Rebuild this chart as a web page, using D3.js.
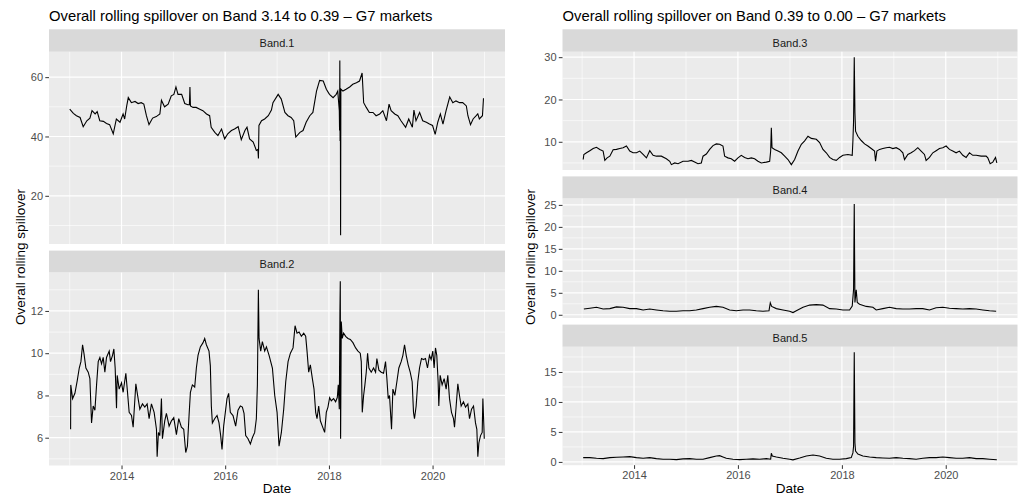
<!DOCTYPE html>
<html><head><meta charset="utf-8">
<script src="https://cdn.jsdelivr.net/npm/d3@7"></script>
<style>
body{margin:0;background:#fff}
svg{display:block}
text{font-family:"Liberation Sans",Arial,Helvetica,sans-serif}
</style>
</head><body>
<svg id="chart" width="1021" height="497"></svg>
<script>
// ---------------- DATA (time in decimal years) ----------------
const titles = ["Overall rolling spillover on Band 3.14 to 0.39 \u2013 G7 markets",
                "Overall rolling spillover on Band 0.39 to 0.00 \u2013 G7 markets"];
const bandNames = ["Band.1","Band.2","Band.3","Band.4","Band.5"];
const xTickYears = [2014, 2016, 2018, 2020];
const xLabel = "Date";
const yLabel = "Overall rolling spillover";

const b1Time = [2013.00,2013.07,2013.13,2013.20,2013.26,2013.33,2013.39,2013.43,2013.49,2013.53,2013.58,2013.65,2013.71,2013.77,2013.84,2013.90,2013.97,2014.03,2014.06,2014.10,2014.13,2014.19,2014.26,2014.32,2014.38,2014.43,2014.48,2014.53,2014.60,2014.67,2014.74,2014.77,2014.83,2014.90,2014.96,2015.01,2015.05,2015.09,2015.16,2015.22,2015.28,2015.31,2015.32,2015.33,2015.38,2015.44,2015.51,2015.57,2015.64,2015.70,2015.73,2015.80,2015.86,2015.93,2015.99,2016.05,2016.12,2016.18,2016.25,2016.31,2016.38,2016.42,2016.47,2016.54,2016.60,2016.63,2016.64,2016.65,2016.70,2016.76,2016.83,2016.89,2016.92,2017.02,2017.08,2017.15,2017.21,2017.27,2017.32,2017.36,2017.44,2017.50,2017.56,2017.63,2017.69,2017.76,2017.82,2017.89,2017.95,2018.01,2018.08,2018.14,2018.17,2018.200,2018.205,2018.210,2018.215,2018.220,2018.225,2018.230,2018.27,2018.33,2018.40,2018.46,2018.53,2018.59,2018.64,2018.67,2018.72,2018.78,2018.85,2018.91,2018.98,2019.04,2019.11,2019.16,2019.20,2019.27,2019.33,2019.39,2019.48,2019.54,2019.61,2019.64,2019.68,2019.75,2019.81,2019.88,2019.94,2020.00,2020.05,2020.10,2020.15,2020.20,2020.26,2020.33,2020.39,2020.45,2020.52,2020.58,2020.65,2020.68,2020.73,2020.78,2020.84,2020.87,2020.90,2020.96,2020.98];
const b1Value = [49.2,47.8,47,46.4,43.3,45.3,46.2,48.7,47.6,48.4,45.3,45.1,44.4,44,40.9,45.9,44.8,47.6,45.9,50.3,53.1,51.4,51.8,51.1,51.4,50.9,47,44,46.2,46.7,47.6,52.2,50,50.9,53.7,54.2,56.7,54.2,54.2,51.1,50.7,50.7,56.7,50.3,49.8,49.8,49.2,48.7,47.6,47,43.1,41.4,40.3,42.5,39.2,40.9,42,42.5,43.3,38.9,42,43.1,39.2,38.1,35.3,35.6,32.6,43.7,45.3,45.9,47,48.9,51.4,54.2,52.6,48.1,47,46.4,45.3,39.8,41.4,42,44.8,47,48.1,55.3,58.9,58.7,55.9,54.2,53.1,54.2,55.3,48.7,42,65.6,38.5,55,6.7,56,55.3,55.9,56.7,57.6,58.1,58.7,61.4,51.4,49.8,48.1,48.1,47,47.6,48.7,45.3,50.9,48.7,47.6,47,45.3,43.1,45.9,43.1,48.9,45.3,48.1,45.3,44.8,44.2,43.7,40.7,44.8,47.6,44.2,48.7,53.3,51.4,52,51.4,51.4,50.3,47,44,45.9,47,47.6,45.9,47,52.9];

const b2Time = [2013.017,2013.02,2013.055,2013.10,2013.145,2013.184,2013.216,2013.248,2013.274,2013.312,2013.357,2013.389,2013.421,2013.453,2013.486,2013.518,2013.55,2013.582,2013.614,2013.646,2013.678,2013.71,2013.762,2013.787,2013.826,2013.852,2013.877,2013.903,2013.916,2013.954,2013.999,2014.031,2014.083,2014.115,2014.147,2014.192,2014.224,2014.276,2014.32,2014.353,2014.404,2014.449,2014.494,2014.532,2014.577,2014.629,2014.674,2014.687,2014.712,2014.738,2014.77,2014.789,2014.834,2014.866,2014.918,2014.963,2015.008,2015.059,2015.104,2015.155,2015.2,2015.239,2015.271,2015.303,2015.329,2015.367,2015.412,2015.444,2015.476,2015.521,2015.573,2015.605,2015.637,2015.688,2015.714,2015.733,2015.753,2015.797,2015.843,2015.881,2015.913,2015.939,2015.971,2016.003,2016.035,2016.067,2016.099,2016.151,2016.202,2016.247,2016.292,2016.331,2016.363,2016.395,2016.44,2016.485,2016.523,2016.568,2016.6,2016.62,2016.639,2016.652,2016.684,2016.716,2016.761,2016.794,2016.845,2016.909,2016.954,2016.999,2017.037,2017.082,2017.127,2017.166,2017.211,2017.256,2017.307,2017.346,2017.384,2017.423,2017.468,2017.513,2017.551,2017.577,2017.609,2017.641,2017.68,2017.712,2017.744,2017.77,2017.802,2017.834,2017.872,2017.917,2017.949,2017.981,2018.013,2018.045,2018.09,2018.129,2018.161,2018.18,2018.2,2018.212,2018.219,2018.225,2018.238,2018.257,2018.283,2018.322,2018.367,2018.412,2018.463,2018.515,2018.56,2018.604,2018.624,2018.643,2018.669,2018.694,2018.72,2018.746,2018.771,2018.816,2018.861,2018.9,2018.925,2018.964,2019.009,2019.054,2019.092,2019.118,2019.144,2019.169,2019.208,2019.234,2019.272,2019.311,2019.349,2019.394,2019.427,2019.459,2019.491,2019.529,2019.568,2019.606,2019.632,2019.651,2019.683,2019.715,2019.748,2019.786,2019.825,2019.863,2019.902,2019.94,2019.972,2020.004,2020.03,2020.056,2020.081,2020.107,2020.12,2020.146,2020.184,2020.223,2020.261,2020.293,2020.326,2020.364,2020.403,2020.422,2020.454,2020.486,2020.518,2020.55,2020.595,2020.634,2020.679,2020.711,2020.75,2020.788,2020.826,2020.852,2020.871,2020.891,2020.923,2020.955,2020.968,2020.987,2020.995];
const b2Value = [6.4,8.5,7.85,8.1,8.7,9.3,9.6,10.4,10.0,9.3,9.1,8.8,6.7,7.5,7.3,8.5,9.6,9.8,9.5,9.8,9.1,9.8,10.1,9.6,9.9,10.2,9.3,7.4,8.95,8.3,8.6,8.15,9.05,8.15,7.2,7.05,6.5,8.55,7.85,7.35,7.6,7.45,7.6,6.9,7.6,7.2,6.4,5.1,6.25,6.1,7.85,5.95,6.8,7.15,6.55,6.8,6.95,6.15,6.9,6.5,6.4,5.3,5.6,7.05,8.15,8.5,8.4,9.3,9.9,10.3,10.5,10.7,10.4,10.1,9.4,7.5,6.7,6.9,7.05,6.7,6.1,5.45,6.55,7.2,7.85,8.1,7.2,7.05,6.55,7.3,7.5,7.45,7.15,6.1,5.95,5.7,6.0,6.25,6.9,8.5,13.0,10.7,10.1,10.55,10.1,10.3,9.9,9.3,8.0,7.2,5.6,6.25,7.35,8.65,9.6,10.0,10.25,11.3,10.95,11.0,10.8,10.95,10.8,10.1,9.1,9.45,8.8,8.3,7.2,6.9,7.5,6.8,6.55,6.25,7.2,7.45,7.9,7.75,7.85,7.7,7.9,8.5,7.35,12.0,13.4,5.95,11.5,10.7,10.95,10.8,10.7,10.65,10.5,10.25,10.1,10.0,9.6,7.2,8.0,8.5,9.1,10.0,9.3,9.1,9.3,9.1,9.75,9.2,9.1,9.05,9.6,8.8,7.85,8.0,6.4,8.3,8.0,8.65,9.3,9.6,9.9,10.4,9.9,9.45,9.1,8.65,7.2,6.9,7.5,8.65,9.3,9.75,9.7,9.75,9.3,9.9,9.7,10.1,9.3,10.25,9.9,8.65,7.5,8.95,8.5,8.8,8.3,8.95,7.85,7.2,6.9,6.5,7.5,8.55,8.0,7.5,7.7,7.45,7.6,6.9,7.35,7.5,6.7,6.4,5.1,5.75,6.1,6.25,7.85,6.55,5.95];

const b3Time = [2013.020,2013.033,2013.084,2013.148,2013.212,2013.276,2013.340,2013.404,2013.437,2013.481,2013.533,2013.597,2013.661,2013.725,2013.789,2013.853,2013.917,2013.981,2014.046,2014.110,2014.174,2014.238,2014.302,2014.366,2014.430,2014.526,2014.622,2014.687,2014.719,2014.783,2014.847,2014.943,2015.039,2015.103,2015.167,2015.231,2015.295,2015.328,2015.392,2015.456,2015.520,2015.584,2015.648,2015.712,2015.744,2015.808,2015.872,2015.937,2016.001,2016.065,2016.129,2016.193,2016.257,2016.321,2016.385,2016.449,2016.546,2016.610,2016.629,2016.642,2016.655,2016.706,2016.770,2016.834,2016.898,2016.962,2017.026,2017.090,2017.154,2017.219,2017.283,2017.347,2017.411,2017.507,2017.571,2017.635,2017.699,2017.763,2017.827,2017.892,2017.956,2018.020,2018.116,2018.199,2018.212,2018.225,2018.238,2018.251,2018.263,2018.308,2018.372,2018.437,2018.501,2018.565,2018.629,2018.648,2018.674,2018.725,2018.789,2018.853,2018.917,2018.981,2019.046,2019.110,2019.174,2019.206,2019.270,2019.334,2019.398,2019.462,2019.526,2019.590,2019.622,2019.687,2019.751,2019.815,2019.879,2019.943,2020.007,2020.071,2020.135,2020.199,2020.263,2020.328,2020.392,2020.456,2020.520,2020.584,2020.680,2020.776,2020.808,2020.853,2020.904,2020.956,2020.981];
const b3Value = [5.8,7.0,7.4,7.9,8.4,8.7,8.2,7.8,5.6,6.2,6.6,8.1,8.2,8.4,8.6,9.0,7.8,7.4,7.4,7.8,7.0,6.2,7.9,6.8,6.6,6.6,6.0,5.4,4.6,5.0,4.8,5.4,5.4,5.6,5.2,4.8,5.0,6.6,7.1,8.2,9.1,9.5,9.4,9.0,6.6,6.2,6.0,5.4,6.2,6.8,6.3,6.0,6.2,6.0,5.4,5.0,5.2,5.4,7.8,13.3,8.6,8.2,7.8,7.4,6.6,5.8,4.6,5.8,7.8,9.4,10.2,11.3,10.8,10.6,9.8,8.2,7.4,6.3,5.8,5.6,6.3,6.8,7.0,6.8,10.2,14.9,30.0,16.9,12.5,11.3,10.3,9.5,9.0,8.4,7.8,5.4,7.8,8.2,8.4,8.6,8.7,8.4,8.6,8.2,7.4,5.8,7.0,7.4,7.9,8.6,7.8,7.0,5.6,6.3,7.4,7.9,8.4,8.6,9.0,8.2,7.8,7.4,7.8,6.8,6.3,7.4,6.8,6.8,6.6,6.6,6.2,4.8,5.2,6.3,5.0];

const b4Time = [2013.033,2013.148,2013.276,2013.404,2013.533,2013.661,2013.789,2013.917,2014.046,2014.174,2014.302,2014.430,2014.558,2014.687,2014.815,2014.943,2015.071,2015.199,2015.328,2015.456,2015.584,2015.712,2015.840,2015.969,2016.097,2016.225,2016.353,2016.481,2016.597,2016.622,2016.648,2016.738,2016.866,2016.994,2017.058,2017.122,2017.251,2017.379,2017.507,2017.635,2017.763,2017.892,2018.020,2018.148,2018.199,2018.225,2018.238,2018.251,2018.276,2018.296,2018.340,2018.469,2018.597,2018.661,2018.789,2018.917,2019.046,2019.174,2019.302,2019.430,2019.558,2019.687,2019.815,2019.943,2020.071,2020.199,2020.328,2020.456,2020.584,2020.712,2020.840,2020.968];
const b4Value = [1.3,1.5,1.7,1.3,1.4,1.8,1.7,1.4,1.4,1.1,1.3,1.1,0.9,0.8,0.8,0.9,0.9,1.1,1.4,1.7,1.9,1.7,1.1,0.9,1.1,1.1,0.9,0.8,0.9,2.7,1.9,1.4,1.1,0.8,0.5,0.9,1.7,2.2,2.3,2.2,1.4,1.3,1.1,1.1,2.0,5.8,25.2,2.8,5.7,2.8,2.4,1.9,1.7,1.1,1.4,1.7,1.4,1.3,1.3,1.4,1.4,1.1,1.6,1.7,1.5,1.4,1.3,1.4,1.3,1.1,0.9,0.8];

const b5Time = [2013.020,2013.148,2013.276,2013.404,2013.533,2013.661,2013.789,2013.917,2014.046,2014.174,2014.302,2014.430,2014.558,2014.687,2014.815,2014.943,2015.071,2015.199,2015.328,2015.456,2015.584,2015.648,2015.712,2015.776,2015.904,2016.033,2016.161,2016.289,2016.417,2016.546,2016.629,2016.642,2016.661,2016.738,2016.866,2016.994,2017.058,2017.187,2017.315,2017.443,2017.571,2017.699,2017.827,2017.956,2018.084,2018.180,2018.212,2018.225,2018.238,2018.251,2018.263,2018.308,2018.404,2018.533,2018.661,2018.789,2018.917,2019.046,2019.174,2019.302,2019.430,2019.558,2019.687,2019.815,2019.943,2020.071,2020.199,2020.328,2020.456,2020.584,2020.712,2020.840,2020.981];
const b5Value = [0.72,0.72,0.6,0.55,0.72,0.77,0.83,0.88,0.72,0.6,0.72,0.55,0.45,0.45,0.39,0.5,0.55,0.45,0.45,0.72,1.0,1.05,0.83,0.6,0.45,0.39,0.45,0.5,0.45,0.55,0.45,1.45,1.0,0.83,0.6,0.45,0.35,0.66,1.0,1.15,1.0,0.6,0.45,0.45,0.55,0.72,1.5,2.6,18.3,3.2,1.8,1.3,1.0,0.83,0.72,0.66,0.6,0.72,0.6,0.55,0.45,0.6,0.72,0.72,0.83,0.72,0.6,0.6,0.72,0.55,0.55,0.45,0.35];

const yTicks = [[20,40,60],[6,8,10,12],[10,20,30],[0,5,10,15,20,25],[0,5,10,15]];

// ---------------- LAYOUT ----------------
const svg = d3.select("#chart");
const W = 1021, H = 497;
svg.append("rect").attr("width",W).attr("height",H).attr("fill","#fff");

function toDate(y){
  const yr = Math.floor(y);
  const s = Date.UTC(yr,0,1), e = Date.UTC(yr+1,0,1);
  return new Date(s + (y-yr)*(e-s));
}

const series = [
  {t:b1Time, v:b1Value}, {t:b2Time, v:b2Value}, {t:b3Time, v:b3Value},
  {t:b4Time, v:b4Value}, {t:b5Time, v:b5Value}
].map(s => s.t.map((d,i)=>({date:toDate(d), value:s.v[i]})));

const cols = [
  {x0:49, x1:505, titleX:49, ylabX:25, panels:[
     {i:0, s0:29.3, p0:51.8, p1:244},
     {i:1, s0:250.6, p0:272.6, p1:465.5}]},
  {x0:562.5, x1:1017.5, titleX:562.5, ylabX:535, panels:[
     {i:2, s0:29.3, p0:51.8, p1:170},
     {i:3, s0:176.4, p0:198.6, p1:318},
     {i:4, s0:324.6, p0:346.8, p1:465.2}]}
];

const fontTick = 11, colTick = "#4D4D4D", colTickLine = "#333333";

cols.forEach((col, ci) => {
  const all = col.panels.flatMap(p => series[p.i]);
  const ext = d3.extent(all, d => d.date);
  const pad = (ext[1]-ext[0])*0.05;
  const x = d3.scaleUtc().domain([new Date(+ext[0]-pad), new Date(+ext[1]+pad)]).range([col.x0, col.x1]);
  const majorX = xTickYears.map(y => toDate(y));
  const minorX = d3.utcYear.range(x.domain()[0], x.domain()[1]).filter(d => d.getUTCFullYear() % 2 === 1);

  svg.append("text").attr("x", col.titleX).attr("y", 20.5)
    .attr("font-size", 14.8).attr("fill", "#000").text(titles[ci]);

  col.panels.forEach((p, k) => {
    const data = series[p.i];
    const yext = d3.extent(data, d => d.value);
    const ypad = (yext[1]-yext[0])*0.05;
    const y = d3.scaleLinear().domain([yext[0]-ypad, yext[1]+ypad]).range([p.p1, p.p0]);
    const majors = yTicks[p.i];
    const step = majors[1]-majors[0];
    const minors = [];
    for (let v = majors[0]-step/2; v <= majors[majors.length-1]+step/2 + 1e-9; v += step) {
      if (v >= y.domain()[0] && v <= y.domain()[1]) minors.push(v);
    }
    const g = svg.append("g");
    g.append("rect").attr("x", col.x0).attr("y", p.s0).attr("width", col.x1-col.x0).attr("height", p.p0-p.s0).attr("fill", "#D9D9D9");
    g.append("text").attr("x", (col.x0+col.x1)/2).attr("y", (p.s0+p.p0)/2 + 6.5)
      .attr("text-anchor","middle").attr("font-size", 11).attr("fill","#1A1A1A").text(bandNames[p.i]);
    g.append("rect").attr("x", col.x0).attr("y", p.p0).attr("width", col.x1-col.x0).attr("height", p.p1-p.p0).attr("fill", "#EBEBEB");
    g.selectAll(null).data(minors).enter().append("line")
      .attr("x1", col.x0).attr("x2", col.x1).attr("y1", d=>y(d)).attr("y2", d=>y(d))
      .attr("stroke","#fff").attr("stroke-width",0.6);
    g.selectAll(null).data(minorX).enter().append("line")
      .attr("x1", d=>x(d)).attr("x2", d=>x(d)).attr("y1", p.p0).attr("y2", p.p1)
      .attr("stroke","#fff").attr("stroke-width",0.6);
    g.selectAll(null).data(majors).enter().append("line")
      .attr("x1", col.x0).attr("x2", col.x1).attr("y1", d=>y(d)).attr("y2", d=>y(d))
      .attr("stroke","#fff").attr("stroke-width",1.2);
    g.selectAll(null).data(majorX).enter().append("line")
      .attr("x1", d=>x(d)).attr("x2", d=>x(d)).attr("y1", p.p0).attr("y2", p.p1)
      .attr("stroke","#fff").attr("stroke-width",1.2);
    const cid = "clip"+p.i;
    svg.append("clipPath").attr("id", cid).append("rect")
      .attr("x", col.x0).attr("y", p.p0).attr("width", col.x1-col.x0).attr("height", p.p1-p.p0);
    g.append("path").datum(data).attr("clip-path", `url(#${cid})`)
      .attr("fill","none").attr("stroke","#000").attr("stroke-width",1.1).attr("stroke-linejoin","miter")
      .attr("d", d3.line().x(d=>x(d.date)).y(d=>y(d.value)));
    const ya = g.append("g").attr("transform", `translate(${col.x0},0)`)
      .call(d3.axisLeft(y).tickValues(majors).tickSize(3.7).tickPadding(2.2).tickFormat(d3.format("d")));
    ya.select(".domain").remove();
    ya.selectAll(".tick line").attr("stroke", colTickLine).attr("stroke-width", 1);
    ya.selectAll(".tick text").attr("font-size", fontTick).attr("fill", colTick)
      .attr("font-family", '"Liberation Sans",Arial,sans-serif');
    if (k === col.panels.length-1) {
      const xa = g.append("g").attr("transform", `translate(0,${p.p1})`)
        .call(d3.axisBottom(x).tickValues(majorX).tickSize(3.7).tickPadding(2.5).tickFormat(d3.utcFormat("%Y")));
      xa.select(".domain").remove();
      xa.selectAll(".tick line").attr("stroke", colTickLine).attr("stroke-width", 1);
      xa.selectAll(".tick text").attr("font-size", fontTick).attr("fill", colTick)
        .attr("font-family", '"Liberation Sans",Arial,sans-serif');
      svg.append("text").attr("x", (col.x0+col.x1)/2).attr("y", 492.5)
        .attr("text-anchor","middle").attr("font-size",13.5).attr("fill","#000").text(xLabel);
    }
  });
  svg.append("text").attr("transform", `translate(${col.ylabX},257) rotate(-90)`)
    .attr("text-anchor","middle").attr("font-size",13.5).attr("fill","#000").text(yLabel);
});
</script>
</body></html>
